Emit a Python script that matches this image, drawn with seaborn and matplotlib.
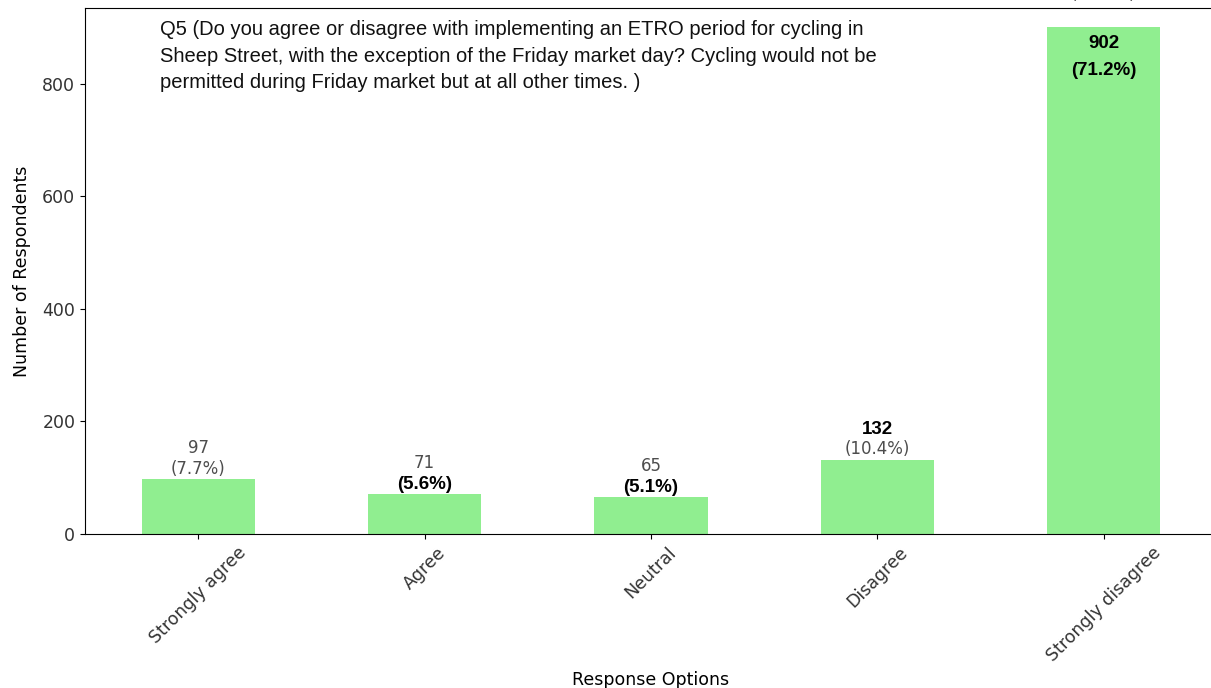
import matplotlib
matplotlib.use("Agg")
import matplotlib.pyplot as plt
import numpy as np
import pandas as pd
import seaborn as sns

# survey data
options = ["Strongly agree", "Agree", "Neutral", "Disagree", "Strongly disagree"]
counts = [97, 71, 65, 132, 902]
percents = [7.7, 5.6, 5.1, 10.4, 71.2]

# black text pasted over some of the labels
overlay_idx = [1, 2, 3, 4]
overlay_text = ["(5.6%)", "(5.1%)", "132", "902\n(71.2%)"]
overlay_mode = ["pct", "pct", "count", "inside"]

question = ("Q5 (Do you agree or disagree with implementing an ETRO period for cycling in\n"
            "Sheep Street, with the exception of the Friday market day? Cycling would not be\n"
            "permitted during Friday market but at all other times. )")

df = pd.DataFrame({"option": options, "count": counts})

plt.rcParams["font.family"] = ["DejaVu Sans"]
fig = plt.figure(figsize=(12.11, 6.88), dpi=100)
ax = fig.add_axes([85 / 1211, 1 - 534 / 688, (1217 - 85) / 1211, (534 - 8) / 688])

sns.barplot(data=df, x="option", y="count", color="lightgreen", saturation=1,
            width=0.5, ax=ax)
ax.set_xlim(-0.5, len(options) - 0.5)
ax.set_ylim(0, 935)

# gray count / percent labels
for i, (c, p) in enumerate(zip(counts, percents)):
    off = 17 if i == len(counts) - 1 else 1
    ax.annotate(f"{c}\n({p:.1f}%)", xy=(i, c), xytext=(0, off), textcoords="offset points",
                ha="center", va="bottom", fontsize=12, color="#4d4d4d",
                annotation_clip=False)

# black overlay labels
for i, txt, mode in zip(overlay_idx, overlay_text, overlay_mode):
    if mode == "pct":
        xy_off, va = (0, 1), "bottom"
    elif mode == "count":
        xy_off, va = (0, 16), "bottom"
    else:
        xy_off, va = (0, -6), "top"
    ax.annotate(txt, xy=(i, counts[i]), xytext=xy_off, textcoords="offset points",
                ha="center", va=va, fontsize=13.5, fontweight="bold", color="black",
                family="Liberation Sans", linespacing=1.8,
                bbox=dict(boxstyle="square,pad=0.05", fc="white" if mode != "inside" else "lightgreen",
                          ec="none"))

ax.text((160 - 85) / 1132, (534 - 20) / 526, question, transform=ax.transAxes,
        ha="left", va="top", fontsize=14.5, family="Liberation Sans", linespacing=1.5,
        color="#111111")

ax.set_xlabel("Response Options", fontsize=12.5)
ax.set_ylabel("Number of Respondents", fontsize=12.5, labelpad=8)
ax.tick_params(axis="both", labelsize=12.5, labelcolor="#333333")
plt.setp(ax.get_xticklabels(), rotation=45)

fig.savefig("out.png", dpi=100)
